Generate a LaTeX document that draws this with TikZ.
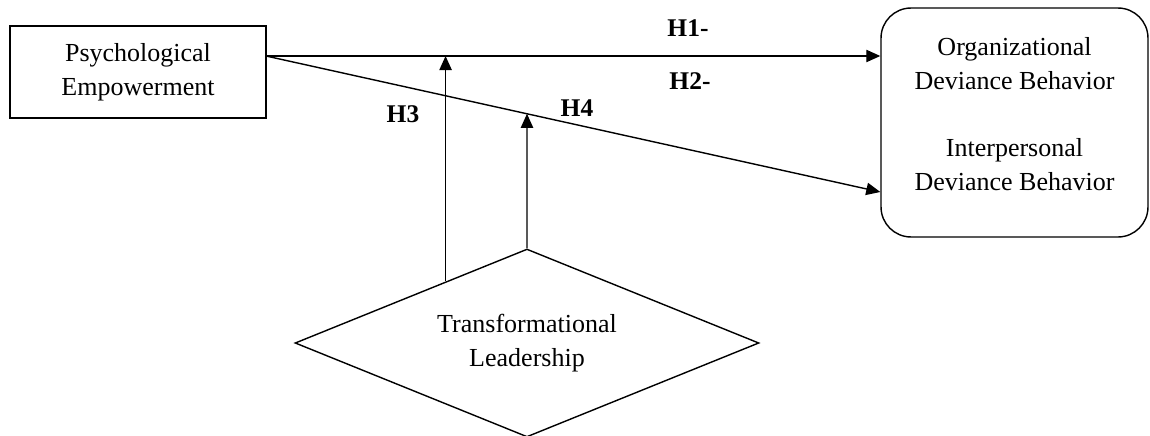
\documentclass[tikz,border=0pt]{standalone}
\usepackage{fontspec}
\setmainfont{Liberation Serif}
\usetikzlibrary{arrows.meta,shapes.geometric,calc}

\begin{document}
\begin{tikzpicture}[x=0.02cm, y=-0.02cm]
        \tikzset{txt/.style={align=center, font=\fontsize{14.8}{19.3}\selectfont},
                 hyp/.style={font=\fontsize{14.5}{16}\selectfont\bfseries},
                 arr/.style={thick, -{Triangle[length=8pt, width=7pt]}}}
        \useasboundingbox (0,0) rectangle (1150,436);

        \node[draw, thick, txt, minimum width=5.12cm, minimum height=1.84cm] (pe) at (138,72) {Psychological\\Empowerment};
        \node[draw, thick, rounded corners=0.6cm, minimum width=5.34cm, minimum height=4.58cm] (dev) at (1014.5,122.5) {};
        \node[txt] (odb) at (1014.5,63.5) {Organizational\\Deviance Behavior};
        \node[txt] (idb) at (1014.5,165) {Interpersonal\\Deviance Behavior};
        \node[draw, thick, diamond, aspect=2.47, inner sep=0pt, minimum width=9.28cm, minimum height=3.76cm, txt] (tl) at (527,343) {Transformational\\Leadership};

        \coordinate (peR) at (266,56);
        \coordinate (devA) at (dev.west |- peR);
        \coordinate (devB) at (dev.west |- 0,192);
        \coordinate (h3s) at ($(tl.west)!0.65!(tl.north)$);
        \coordinate (h4e) at (intersection of peR--devB and tl.north--tl.center);

        \draw[arr] (peR) -- (devA);
        \draw[arr] (peR) -- (devB);
        \draw[arr] (h3s) -- (h3s |- peR);
        \draw[arr] (tl.north) -- (h4e);

        \node[hyp] (h1) at (688,28) {H1-};
        \node[hyp] (h2) at (690,81) {H2-};
        \node[hyp] (h3) at (403,114) {H3};
        \node[hyp] (h4) at (577,108) {H4};
\end{tikzpicture}
\end{document}
